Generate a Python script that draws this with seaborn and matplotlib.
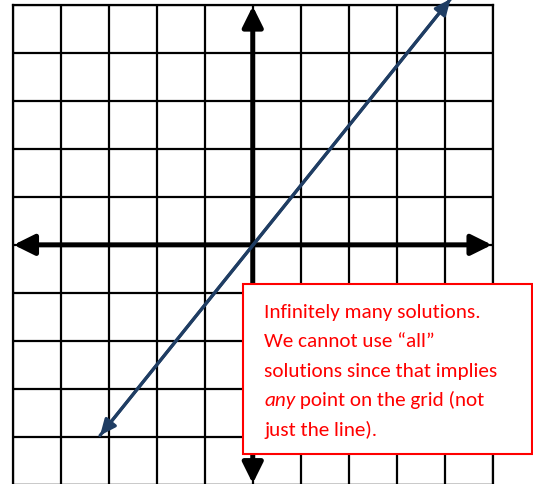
import matplotlib
matplotlib.use("Agg")
import matplotlib.pyplot as plt
from matplotlib import font_manager
from matplotlib.patches import Rectangle
import seaborn as sns

# grid extent (both axes run -5..5, one cell per unit)
grid_ticks = list(range(-5, 6))

# the graphed line y = 1.24x, drawn between its two arrow tips
line_x = [-3.18, 4.12]
line_y = [-3.97, 5.12]

# note box (data coords) and its text lines
box_x = [-0.20, 5.82]
box_y = [-4.36, -0.805]
note_lines = [
    "Infinitely many solutions.",
    "We cannot use \u201call\u201d",
    "solutions since that implies",
    None,  # italic "any" + rest, drawn separately
    "just the line).",
]
note_italic = "any"
note_rest = " point on the grid (not"
note_x = 0.235
note_baselines = [-1.498, -2.100, -2.722, -3.344, -3.967]

navy = "#1F3D63"
red = "#FF0000"

sns.set_style("white")
names = {f.name for f in font_manager.fontManager.ttflist}
note_font = "Carlito" if "Carlito" in names else "Lato"
plt.rcParams["font.family"] = [note_font, "DejaVu Sans"]

fig = plt.figure(figsize=(5.33, 4.85), dpi=100)
ax = fig.add_axes([12.6 / 533, -1.0 / 485, 480.3 / 533, 480.3 / 485])
ax.set_xlim(-5, 5)
ax.set_ylim(-5, 5)
ax.set_xticks(grid_ticks)
ax.set_yticks(grid_ticks)
ax.tick_params(length=0, labelbottom=False, labelleft=False)
ax.grid(True, color="black", lw=1.6)
ax.set_axisbelow(True)
for sp in ax.spines.values():
    sp.set_color("black")
    sp.set_linewidth(1.6)
    sp.set_visible(True)

# coordinate axes with arrowheads
axis_style = "<|-|>,head_length=1.25,head_width=0.62"
ax.annotate("", xy=(0, 4.97), xytext=(0, -4.97),
            arrowprops=dict(arrowstyle=axis_style, color="black", lw=3.6,
                            shrinkA=0, shrinkB=0), annotation_clip=False, zorder=3)
ax.annotate("", xy=(4.98, 0), xytext=(-4.98, 0),
            arrowprops=dict(arrowstyle=axis_style, color="black", lw=3.6,
                            shrinkA=0, shrinkB=0), annotation_clip=False, zorder=3)

# the solution line
sns.lineplot(x=line_x, y=line_y, color=navy, lw=2.3, ax=ax, zorder=4)
ax.lines[-1].set_clip_on(False)
ax.annotate("", xy=(line_x[1], line_y[1]), xytext=(line_x[0], line_y[0]),
            arrowprops=dict(arrowstyle="<|-|>,head_length=0.95,head_width=0.42",
                            color=navy, lw=2.3, shrinkA=0, shrinkB=0),
            annotation_clip=False, zorder=4)

# note box
ax.add_patch(Rectangle((box_x[0], box_y[0]), box_x[1] - box_x[0], box_y[1] - box_y[0],
                       facecolor="white", edgecolor=red, lw=1.5, clip_on=False, zorder=6))

fs = 13
texts = []
for txt, yb in zip(note_lines, note_baselines):
    if txt is None:
        continue
    texts.append(ax.text(note_x, yb, txt, color=red, fontsize=fs, va="baseline",
                         ha="left", zorder=7, clip_on=False))

# scale the font so the widest line matches the reference width (~233 px)
fig.canvas.draw()
w = texts[2].get_window_extent().width
fs = fs * 233.0 / w
for t in texts:
    t.set_fontsize(fs)

t_any = ax.text(note_x, note_baselines[3], note_italic, color=red, fontsize=fs,
                style="italic", va="baseline", ha="left", zorder=7, clip_on=False)
fig.canvas.draw()
bb = t_any.get_window_extent()
x_rest = ax.transData.inverted().transform((bb.x1, bb.y0))[0]
ax.text(x_rest, note_baselines[3], note_rest, color=red, fontsize=fs,
        va="baseline", ha="left", zorder=7, clip_on=False)

fig.savefig("out.png", dpi=100)
